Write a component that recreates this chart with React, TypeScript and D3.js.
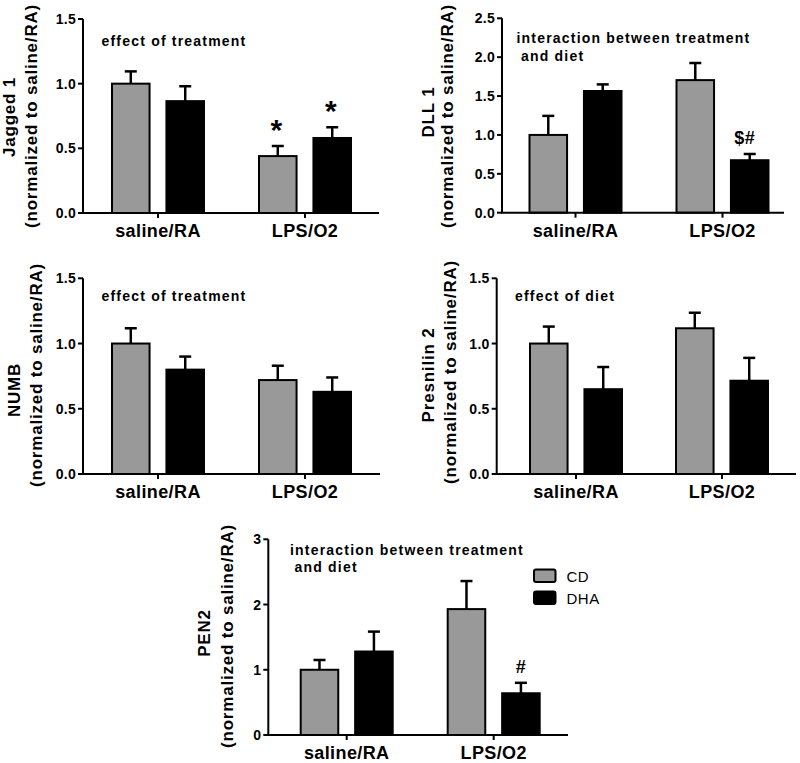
import React from "react";
import * as d3 from "d3";

// ---------- data ----------
const groups = ["saline/RA", "LPS/O2"];
const series = ["CD", "DHA"];
const seriesColors = ["#999999", "#000000"];

const jaggedCD = [1.0, 0.44];
const jaggedCDErr = [0.095, 0.078];
const jaggedDHA = [0.865, 0.58];
const jaggedDHAErr = [0.115, 0.083];
const jaggedMarksCD = ["", "*"];
const jaggedMarksDHA = ["", "*"];

const dllCD = [1.0, 1.705];
const dllCDErr = [0.245, 0.22];
const dllDHA = [1.565, 0.675];
const dllDHAErr = [0.085, 0.08];
const dllMarksCD = ["", ""];
const dllMarksDHA = ["", "$#"];

const numbCD = [1.0, 0.72];
const numbCDErr = [0.117, 0.11];
const numbDHA = [0.8, 0.63];
const numbDHAErr = [0.1, 0.11];

const psenCD = [1.0, 1.117];
const psenCDErr = [0.13, 0.119];
const psenDHA = [0.65, 0.715];
const psenDHAErr = [0.17, 0.175];

const pen2CD = [1.0, 1.93];
const pen2CDErr = [0.15, 0.43];
const pen2DHA = [1.28, 0.64];
const pen2DHAErr = [0.305, 0.16];
const pen2MarksDHA = ["", "#"];

const noMarks = ["", ""];

const ticksA = [0, 0.5, 1.0, 1.5];
const ticksB = [0, 0.5, 1.0, 1.5, 2.0, 2.5];
const ticksC = [0, 1, 2, 3];

const titleSuffix = "(normalized to saline/RA)";

// ---------- layout ----------
type Panel = {
  title: string;
  note: string[];
  cd: number[]; cdErr: number[]; dha: number[]; dhaErr: number[];
  marksCD: string[]; marksDHA: string[];
  ticks: number[]; fmt: string; yMax: number;
  x0: number; x1: number; c1: number; c2: number; yTop: number; yBot: number;
  t1x: number; t2x: number; t1y: number; t2y: number;
  noteX: number[]; noteY: number[];
  legend?: boolean;
};

const panels: Panel[] = [
  {
    title: "Jagged 1", note: ["effect of treatment"],
    cd: jaggedCD, cdErr: jaggedCDErr, dha: jaggedDHA, dhaErr: jaggedDHAErr,
    marksCD: jaggedMarksCD, marksDHA: jaggedMarksDHA,
    ticks: ticksA, fmt: ".1f", yMax: 1.5,
    x0: 83, x1: 379, c1: 158, c2: 305, yTop: 19, yBot: 213,
    t1x: 15, t2x: 37, t1y: 117, t2y: 116,
    noteX: [101.5], noteY: [46],
  },
  {
    title: "DLL 1", note: ["interaction between treatment", "and diet"],
    cd: dllCD, cdErr: dllCDErr, dha: dllDHA, dhaErr: dllDHAErr,
    marksCD: dllMarksCD, marksDHA: dllMarksDHA,
    ticks: ticksB, fmt: ".1f", yMax: 2.5,
    x0: 502, x1: 784, c1: 575.5, c2: 722.5, yTop: 18.3, yBot: 212.7,
    t1x: 434, t2x: 453, t1y: 112, t2y: 116,
    noteX: [516.5, 521], noteY: [43, 60.5],
  },
  {
    title: "NUMB", note: ["effect of treatment"],
    cd: numbCD, cdErr: numbCDErr, dha: numbDHA, dhaErr: numbDHAErr,
    marksCD: noMarks, marksDHA: noMarks,
    ticks: ticksA, fmt: ".1f", yMax: 1.5,
    x0: 83, x1: 380, c1: 158, c2: 305, yTop: 278.3, yBot: 474,
    t1x: 20, t2x: 42, t1y: 390, t2y: 375,
    noteX: [101.5], noteY: [300.5],
  },
  {
    title: "Presnilin 2", note: ["effect of diet"],
    cd: psenCD, cdErr: psenCDErr, dha: psenDHA, dhaErr: psenDHAErr,
    marksCD: noMarks, marksDHA: noMarks,
    ticks: ticksA, fmt: ".1f", yMax: 1.5,
    x0: 496.7, x1: 796, c1: 576, c2: 722, yTop: 278.3, yBot: 474,
    t1x: 434, t2x: 456, t1y: 375, t2y: 372,
    noteX: [515], noteY: [300.5],
  },
  {
    title: "PEN2", note: ["interaction between treatment", "and diet"],
    cd: pen2CD, cdErr: pen2CDErr, dha: pen2DHA, dhaErr: pen2DHAErr,
    marksCD: noMarks, marksDHA: pen2MarksDHA,
    ticks: ticksC, fmt: "d", yMax: 3,
    x0: 268.3, x1: 568, c1: 346.7, c2: 493.7, yTop: 539.3, yBot: 735,
    t1x: 210, t2x: 233, t1y: 633, t2y: 636,
    noteX: [290, 294.5], noteY: [555, 572],
    legend: true,
  },
];

const FONT = "'Liberation Sans', Arial, Helvetica, sans-serif";

function PanelView({ p }: { p: Panel }) {
  const y = d3.scaleLinear().domain([0, p.yMax]).range([p.yBot, p.yTop]);
  const xg = d3.scalePoint<string>().domain(groups).range([p.c1, p.c2]);
  const xs = d3.scaleBand<string>().domain(series).range([-46, 46]).paddingInner(0.31);
  const fmt = d3.format(p.fmt);
  const vals = [p.cd, p.dha];
  const errs = [p.cdErr, p.dhaErr];
  const marks = [p.marksCD, p.marksDHA];
  const bw = xs.bandwidth();

  return (
    <g>
      {series.map((s, si) =>
        groups.map((g, gi) => {
          const v = vals[si][gi];
          const e = errs[si][gi];
          const bx = (xg(g) as number) + (xs(s) as number);
          const cx = bx + bw / 2;
          const yv = y(v);
          const ye = y(v + e);
          const m = marks[si][gi];
          return (
            <g key={s + g}>
              <line x1={cx} x2={cx} y1={yv} y2={ye} stroke="#000" strokeWidth={2.5} />
              <line x1={cx - 6} x2={cx + 6} y1={ye} y2={ye} stroke="#000" strokeWidth={2.5} />
              <rect x={bx} y={yv} width={bw} height={p.yBot - yv} fill={seriesColors[si]} stroke="#000" strokeWidth={2} />
              {m === "*" && (
                <text x={cx - 1.5} y={ye - 6} textAnchor="middle" fontSize={30} fontWeight="bold" fontFamily={FONT}>*</text>
              )}
              {m && m !== "*" && (
                <text x={cx - (m.length > 1 ? 5 : 0)} y={ye - 10} textAnchor="middle" fontSize={18} fontWeight="bold" fontFamily={FONT} letterSpacing={0.5}>{m}</text>
              )}
            </g>
          );
        })
      )}
      {/* y axis */}
      <line x1={p.x0} x2={p.x0} y1={p.yTop} y2={p.yBot} stroke="#000" strokeWidth={2} />
      {p.ticks.map((t) => (
        <g key={t}>
          <line x1={p.x0 - 5} x2={p.x0} y1={y(t)} y2={y(t)} stroke="#000" strokeWidth={2} />
          <text x={p.x0 - 7} y={y(t)} dy="0.36em" textAnchor="end" fontSize={14} fontWeight="bold" fontFamily={FONT} letterSpacing={0.3}>
            {fmt(t)}
          </text>
        </g>
      ))}
      {/* x axis */}
      <line x1={p.x0 - 1} x2={p.x1} y1={p.yBot} y2={p.yBot} stroke="#000" strokeWidth={2} />
      {groups.map((g) => (
        <g key={g}>
          <line x1={xg(g)} x2={xg(g)} y1={p.yBot} y2={p.yBot + 5} stroke="#000" strokeWidth={2} />
          <text x={xg(g)} y={p.yBot + 24} textAnchor="middle" fontSize={18} fontWeight="bold" fontFamily={FONT} letterSpacing={0.4}>
            {g}
          </text>
        </g>
      ))}
      {/* y title */}
      <text transform={`translate(${p.t1x},${p.t1y}) rotate(-90)`} textAnchor="middle" fontSize={17} fontWeight="bold" fontFamily={FONT} letterSpacing={0.8}>
        {p.title}
      </text>
      <text transform={`translate(${p.t2x},${p.t2y}) rotate(-90)`} textAnchor="middle" fontSize={17} fontWeight="bold" fontFamily={FONT} letterSpacing={0.8}>
        {titleSuffix}
      </text>
      {/* note */}
      {p.note.map((n, i) => (
        <text key={i} x={p.noteX[i]} y={p.noteY[i]} fontSize={14} fontWeight="bold" fontFamily={FONT} letterSpacing={1.2}>
          {n}
        </text>
      ))}
      {p.legend && (
        <g>
          {series.map((s, si) => (
            <g key={s}>
              <rect x={534} y={569.5 + si * 22} width={21.5} height={12.5} rx={2} fill={seriesColors[si]} stroke="#000" strokeWidth={2} />
              <text x={566.5} y={581.5 + si * 22} fontSize={15} fontFamily={FONT} letterSpacing={0.5}>{s}</text>
            </g>
          ))}
        </g>
      )}
    </g>
  );
}

export default function App() {
  return (
    <svg width={800} height={763} style={{ position: "absolute", left: 0, top: 0, background: "#fff" }}>
      <rect width={800} height={763} fill="#fff" />
      {panels.map((p) => (
        <PanelView key={p.title} p={p} />
      ))}
    </svg>
  );
}
